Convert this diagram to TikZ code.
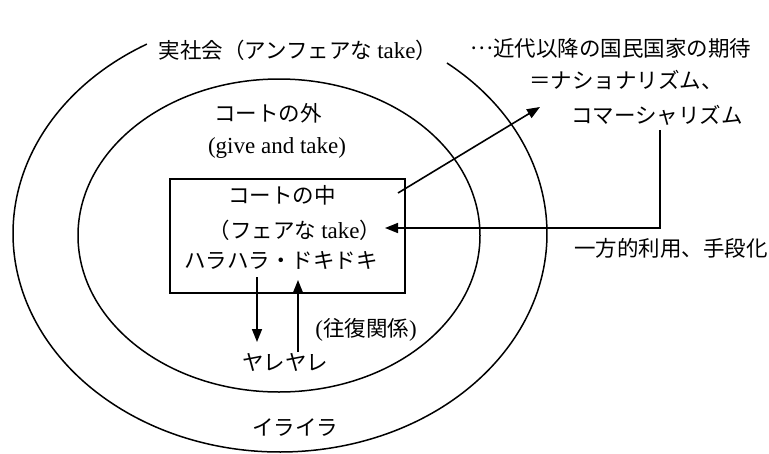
\documentclass[tikz,border=0pt]{standalone}
\usepackage{fontspec}
\setmainfont{Liberation Serif}
\newfontfamily\jpfont{Noto Sans CJK JP}
\usetikzlibrary{arrows.meta,calc}
\newcommand\latn[1]{{\fontsize{23}{26}\selectfont\rmfamily #1}}
\tikzset{
  lbl/.style={inner sep=0pt, font=\fontsize{21.5}{26}\selectfont\jpfont},
  ring/.style={line width=1.5pt},
  conn/.style={line width=1.6pt, -{Triangle[length=13pt,width=10pt]}},
}
\begin{document}
\begin{tikzpicture}[x=1pt,y=-1pt]
\useasboundingbox (0,0) rectangle (769,453);
% outer ellipse with a gap at the top
\draw[ring] ($(280,233.5)+(-51.3:267 and 218.5)$) arc[start angle=-51.3, end angle=240.1, x radius=267, y radius=218.5];
% inner ellipse
\draw[ring] (279,235.5) ellipse[x radius=201, y radius=156.5];
% box
\node[draw, line width=2pt, minimum width=235pt, minimum height=114pt, inner sep=0pt] (box) at (287.5,236) {};
% labels
\node[lbl] (real) at (298,50) {実社会（アンフェアな\hspace{5pt}\latn{take}）};
\node[lbl] (outside) at (268,113) {コートの外};
\node[lbl] (gat) at (277,148) {\latn{(give and take)}};
\node[lbl] (inside) at (282,195) {コートの中};
\node[lbl] (fair) at (295,230) {（フェアな\hspace{5pt}\latn{take}）};
\node[lbl] (hara) at (281,260) {ハラハラ・ドキドキ};
\node[lbl] (ouf) at (366,330) {\latn{(}往復関係\latn{)}};
\node[lbl] (yare) at (285,362) {ヤレヤレ};
\node[lbl] (ira) at (295,428) {イライラ};
\node[lbl] (exp) at (611,48) {\raisebox{0.3em}{…}近代以降の国民国家の期待};
\node[lbl] (nat) at (626,80) {＝ナショナリズム、};
\node[lbl] (com) at (657,115) {コマーシャリズム};
\node[lbl] (use) at (671,248) {一方的利用、手段化};
% connector points
\coordinate (a1s) at (398,193);
\coordinate (a1e) at (540,107);
\coordinate (fbs) at (660,130);
\coordinate (fbc) at (660,228);
\coordinate (fbe) at (385,228);
\coordinate (d1s) at (257,277);
\coordinate (d1e) at (257,342);
\coordinate (u1s) at (298,352);
\coordinate (u1e) at (298,280);
\draw[conn] (a1s) -- (a1e);
\draw[conn] (fbs) -- (fbc) -- (fbe);
\draw[conn] (d1s) -- (d1e);
\draw[conn] (u1s) -- (u1e);
\end{tikzpicture}
\end{document}
